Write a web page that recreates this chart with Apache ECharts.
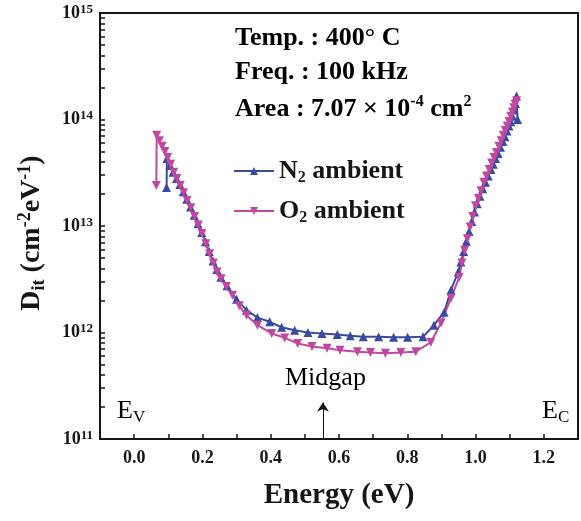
<!DOCTYPE html>
<html>
<head>
<meta charset="utf-8">
<script src="https://cdn.jsdelivr.net/npm/echarts@6/dist/echarts.min.js"></script>
<style>
html, body { margin: 0; padding: 0; background: #fff; }
#chart { width: 581px; height: 521px; }
</style>
</head>
<body>
<div id="chart"></div>
<script>
// D_it vs energy
var n2Energy = [0.095, 0.096, 0.105, 0.114, 0.124, 0.134, 0.144, 0.154, 0.165, 0.176, 0.187, 0.198, 0.209, 0.220, 0.231, 0.242, 0.254,
    0.272, 0.300, 0.329, 0.361, 0.397, 0.432, 0.470, 0.509, 0.550, 0.595, 0.633, 0.671, 0.716, 0.760, 0.801, 0.846,
    0.878, 0.908, 0.928, 0.949, 0.957, 0.965, 0.973, 0.981, 0.989, 0.997, 1.005, 1.013, 1.021, 1.029, 1.037, 1.045,
    1.052, 1.059, 1.066, 1.073, 1.080, 1.086, 1.092, 1.098, 1.103, 1.108, 1.113, 1.117, 1.120, 1.123]
var n2Dit = [2.3e13, 4.3e13, 3.7e13, 3.2e13, 2.8e13, 2.45e13, 2.1e13, 1.78e13, 1.51e13, 1.26e13, 1.05e13, 8.7e12, 7.1e12, 5.75e12, 4.7e12, 3.9e12, 3.3e12,
    2.75e12, 2.05e12, 1.62e12, 1.38e12, 1.26e12, 1.12e12, 1.05e12, 1.0e12, 9.8e11, 9.6e11, 9.3e11, 9.1e11, 9.1e11, 9.0e11, 9.0e11, 9.1e11,
    1.17e12, 1.55e12, 2.5e12, 3.7e12, 4.6e12, 5.75e12, 7.2e12, 8.9e12, 1.1e13, 1.35e13, 1.62e13, 1.9e13, 2.24e13, 2.57e13, 2.95e13, 3.4e13,
    3.8e13, 4.3e13, 4.8e13, 5.5e13, 6.2e13, 6.9e13, 7.8e13, 8.7e13, 9.5e13, 1.07e14, 1.23e14, 1.41e14, 1.66e14, 1.0e14]

var o2Energy = [0.065, 0.066, 0.074, 0.082, 0.090, 0.098, 0.107, 0.116, 0.125, 0.135, 0.145, 0.155, 0.166, 0.177, 0.188, 0.199, 0.210,
    0.221, 0.232, 0.243, 0.255, 0.270, 0.288, 0.308, 0.329, 0.361, 0.403, 0.441, 0.479, 0.521, 0.565, 0.603, 0.654,
    0.692, 0.736, 0.781, 0.825, 0.869, 0.899, 0.928, 0.952, 0.960, 0.968, 0.976, 0.984, 0.992, 1.000, 1.008, 1.016,
    1.024, 1.032, 1.040, 1.047, 1.054, 1.061, 1.068, 1.075, 1.081, 1.087, 1.093, 1.098, 1.103, 1.108, 1.112, 1.116, 1.120]
var o2Dit = [2.4e13, 7.1e13, 6.3e13, 5.6e13, 5.0e13, 4.4e13, 3.8e13, 3.2e13, 2.8e13, 2.4e13, 2.05e13, 1.74e13, 1.48e13, 1.23e13, 1.02e13, 8.5e12, 6.8e12,
    5.5e12, 4.5e12, 3.7e12, 3.2e12, 2.7e12, 2.24e12, 1.78e12, 1.45e12, 1.17e12, 9.8e11, 8.9e11, 7.9e11, 7.4e11, 7.1e11, 6.8e11, 6.6e11,
    6.5e11, 6.4e11, 6.5e11, 6.6e11, 8.1e11, 1.23e12, 2.1e12, 3.3e12, 4.5e12, 5.9e12, 7.6e12, 9.8e12, 1.23e13, 1.55e13, 1.82e13, 2.14e13,
    2.57e13, 2.95e13, 3.4e13, 3.9e13, 4.4e13, 4.9e13, 5.6e13, 6.3e13, 7.1e13, 7.9e13, 8.7e13, 9.6e13, 1.07e14, 1.17e14, 1.29e14, 1.38e14, 1.5e14]

var xLabelValues = [0, 0.2, 0.4, 0.6, 0.8, 1.0, 1.2]
var xTickValues = [0, 0.1, 0.2, 0.3, 0.4, 0.5, 0.6, 0.7, 0.8, 0.9, 1.0, 1.1, 1.2]
var yLabelValues = [1e11, 1e12, 1e13, 1e14, 1e15]
var midgapEnergy = 0.553

var yTickValues = []
yLabelValues.forEach(function (d, i) {
    yTickValues.push(d)
    if (i < yLabelValues.length - 1) {
        for (var k = 2; k <= 9; k++) yTickValues.push(d * k)
    }
})

var chart = echarts.init(document.getElementById('chart'))
var serif = 'Liberation Serif'
var ink = '#161616'
var blue = '#3a4aa0'
var pink = '#c0489e'

function pairs(xs, ys) {
    return xs.map(function (x, i) { return [x, ys[i]] })
}

function rt(size, weight, extra) {
    var s = { fontFamily: serif, fontSize: size, fontWeight: weight, color: ink }
    for (var k in extra) s[k] = extra[k]
    return s
}

var annoRich = {
    a: rt(26, 'bold', { lineHeight: 30 }),
    s: rt(16, 'bold', { lineHeight: 16, verticalAlign: 'top' })
}
var edgeRich = {
    a: rt(26, 'normal', { lineHeight: 30 }),
    d: rt(17, 'normal', { lineHeight: 17, verticalAlign: 'bottom' })
}

var option = {
    animation: false,
    grid: {
        left: 100, top: 13, right: 3, bottom: 82,
        show: true, borderColor: ink, borderWidth: 2
    },
    legend: {
        orient: 'vertical',
        left: 233, top: 158,
        padding: 0,
        itemWidth: 40, itemHeight: 10, itemGap: 12,
        data: ['N2 ambient', 'O2 ambient'],
        formatter: function (name) {
            return name === 'N2 ambient' ? '{t|N}{s|2}{t| ambient}' : '{t|O}{s|2}{t| ambient}'
        },
        textStyle: {
            rich: {
                t: rt(26, 'bold', { lineHeight: 30 }),
                s: rt(16, 'bold', { lineHeight: 16, verticalAlign: 'bottom' })
            }
        }
    },
    xAxis: {
        type: 'value',
        min: -0.1, max: 1.3,
        axisLine: { onZero: false, lineStyle: { color: ink, width: 2 } },
        axisTick: { inside: true, length: 5, customValues: xTickValues, lineStyle: { color: ink, width: 1.5 } },
        axisLabel: {
            customValues: xLabelValues,
            formatter: function (v) { return v.toFixed(1) },
            fontFamily: serif, fontWeight: 'bold', fontSize: 18, color: ink, margin: 10
        },
        splitLine: { show: false },
        name: 'Energy (eV)',
        nameLocation: 'middle',
        nameGap: 42,
        nameTextStyle: { fontFamily: serif, fontWeight: 'bold', fontSize: 29, color: ink }
    },
    yAxis: {
        type: 'log',
        logBase: 10,
        min: 1e11, max: 1.000001e15,
        axisLine: { show: true, onZero: false, lineStyle: { color: ink, width: 2 } },
        axisTick: { show: true, inside: true, length: 5, customValues: yTickValues, lineStyle: { color: ink, width: 1.5 } },
        axisLabel: {
            customValues: yLabelValues,
            margin: 7,
            formatter: function (v) {
                return '{b|10}{s|' + Math.round(Math.log10(v)) + '}'
            },
            rich: {
                b: rt(18, 'bold', { lineHeight: 20 }),
                s: rt(13, 'bold', { lineHeight: 13, verticalAlign: 'top' })
            }
        },
        splitLine: { show: false },
        name: '{b|D}{d|it}{b| (cm}{u|-2}{b|eV}{u|-1}{b|)}',
        nameLocation: 'middle',
        nameRotate: 90,
        nameGap: 52,
        nameTextStyle: {
            padding: [0, 14, 0, 0],
            rich: {
                b: rt(28, 'bold', { lineHeight: 32 }),
                d: rt(18, 'bold', { lineHeight: 18, verticalAlign: 'bottom' }),
                u: rt(18, 'bold', { lineHeight: 18, verticalAlign: 'top' })
            }
        }
    },
    series: [
        {
            name: 'N2 ambient',
            type: 'line',
            data: pairs(n2Energy, n2Dit),
            symbol: 'triangle',
            symbolSize: 9,
            lineStyle: { color: blue, width: 2 },
            itemStyle: { color: blue },
            markLine: {
                silent: true,
                symbol: ['none', 'arrow'],
                symbolSize: 9,
                label: { show: false },
                lineStyle: { color: ink, width: 1, type: 'solid' },
                data: [[{ coord: [midgapEnergy, 1e11] }, { coord: [midgapEnergy, 2.2e11] }]]
            }
        },
        {
            name: 'O2 ambient',
            type: 'line',
            data: pairs(o2Energy, o2Dit),
            symbol: 'triangle',
            symbolRotate: 180,
            symbolSize: 9,
            lineStyle: { color: pink, width: 2 },
            itemStyle: { color: pink }
        }
    ],
    graphic: [
        { type: 'text', left: 235, top: 25, style: { text: '{a|Temp. : 400° C}', rich: annoRich } },
        { type: 'text', left: 235, top: 59, style: { text: '{a|Freq. : 100 kHz}', rich: annoRich } },
        { type: 'text', left: 235, top: 94, style: { text: '{a|Area : 7.07 × 10}{s|-4}{a| cm}{s|2}', rich: annoRich } },
        { type: 'text', left: 285, top: 365, style: { text: '{a|Midgap}', rich: edgeRich } },
        { type: 'text', left: 117, top: 398, style: { text: '{a|E}{d|V}', rich: edgeRich } },
        { type: 'text', left: 542, top: 398, style: { text: '{a|E}{d|C}', rich: edgeRich } }
    ]
}

chart.setOption(option)
</script>
</body>
</html>
